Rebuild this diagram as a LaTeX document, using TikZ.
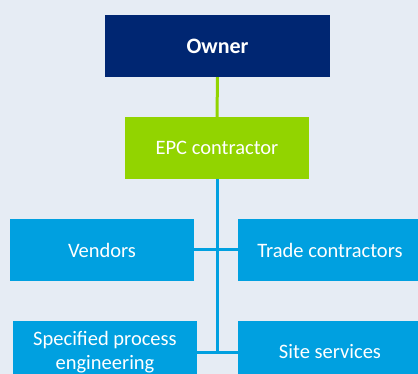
\documentclass[tikz,border=0pt]{standalone}
\usepackage{fontspec}
\setmainfont{Carlito}
\usepackage{xcolor}
\definecolor{bgpale}{RGB}{230,236,244}
\definecolor{ownernavy}{RGB}{0,38,114}
\definecolor{epcgreen}{RGB}{146,212,0}
\definecolor{subblue}{RGB}{0,160,224}

\begin{document}
\begin{tikzpicture}[x=1pt,y=-1pt,
    box/.style={minimum width=184pt,minimum height=62pt,inner sep=0pt,text=white,align=center,font=\fontsize{20.5}{24}\selectfont},
    link/.style={line width=3pt,subblue}]
            \useasboundingbox[fill=bgpale] (0,0) rectangle (418,374);
            \clip (0,0) rectangle (418,374);
            \node[box,fill=ownernavy,minimum width=225pt,font=\fontsize{22}{26}\selectfont\bfseries] (owner) at (217.5,46) {Owner};
            \node[box,fill=epcgreen] (epc) at (217,148) {EPC contractor};
            \node[box,fill=subblue] (vendors) at (102,250) {Vendors};
            \node[box,fill=subblue] (trade) at (330,250) {Trade contractors};
            \node[box,fill=subblue] (spec) at (105,352) {Specified process\\engineering};
            \node[box,fill=subblue] (site) at (330,352) {Site services};
            \coordinate (trunkend) at (217,353);
            \draw[line width=3pt,epcgreen] (owner.south)--(epc.north);
            \draw[link] (epc.south)--(trunkend);
            \draw[link] (vendors.east)--(trade.west);
            \draw[link] (spec.east)--(site.west);
\end{tikzpicture}
\end{document}
